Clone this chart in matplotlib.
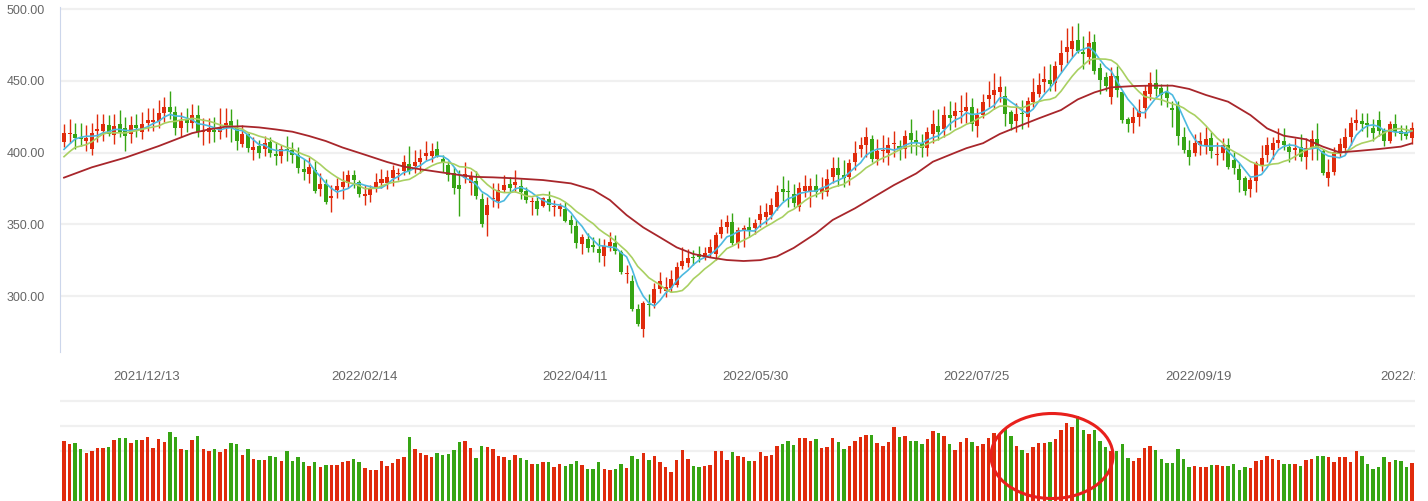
import numpy as np
import pandas as pd
import matplotlib
matplotlib.use("Agg")
import matplotlib.pyplot as plt
from matplotlib.patches import Ellipse
from matplotlib.transforms import Bbox, TransformedBbox, blended_transform_factory

# daily OHLC
opens = [
    407.5, 412.6, 412.9, 410.6, 408.2, 402.7, 415.3, 415.2, 418.9, 412.4,
    419.9, 417.1, 413.1, 419.2, 414.5, 420.8, 421.2, 422.0, 427.7, 431.7,
    428.2, 417.3, 422.8, 420.8, 426.1, 414.4, 414.5, 415.9, 414.3, 418.5,
    422.0, 416.8, 406.2, 412.9, 402.0, 404.3, 402.2, 407.3, 398.9, 397.8,
    402.2, 401.7, 398.5, 388.3, 385.2, 387.8, 374.6, 378.0, 368.6, 373.9,
    376.2, 378.5, 384.3, 379.4, 370.0, 370.6, 375.9, 378.7, 378.9, 382.2,
    384.7, 387.1, 391.7, 390.8, 393.4, 397.8, 397.8, 402.4, 395.5, 391.3,
    385.5, 377.1, 382.0, 379.0, 380.1, 367.6, 356.7, 367.7, 366.2, 373.9,
    378.0, 377.3, 376.7, 372.9, 365.2, 366.2, 363.0, 367.4, 362.2, 360.9,
    360.6, 352.9, 348.8, 336.5, 339.7, 335.5, 332.7, 328.1, 334.6, 336.7,
    330.7, 315.5, 310.4, 290.9, 276.7, 293.6, 295.3, 304.9, 303.7, 305.3,
    307.7, 321.1, 323.2, 327.2, 329.3, 327.2, 330.2, 329.3, 343.2, 348.3,
    351.6, 337.2, 346.3, 348.1, 347.6, 352.9, 355.3, 356.4, 362.2, 374.3,
    372.3, 371.1, 362.2, 373.4, 373.4, 376.6, 372.7, 372.7, 383.1, 389.2,
    384.1, 383.1, 393.6, 402.7, 405.2, 409.2, 395.5, 401.0, 399.4, 405.6,
    404.3, 402.2, 413.6, 408.7, 406.9, 402.9, 412.9, 418.2, 416.1, 425.9,
    425.7, 428.4, 429.2, 431.5, 418.7, 426.1, 437.5, 440.1, 442.4, 439.4,
    428.2, 422.2, 427.5, 424.7, 435.4, 441.0, 449.4, 450.5, 448.2, 461.0,
    470.3, 472.1, 478.4, 470.3, 466.8, 477.0, 458.9, 452.6, 438.9, 453.1,
    442.2, 423.3, 420.3, 424.5, 430.8, 440.5, 448.2, 444.9, 441.9, 430.8,
    433.3, 410.8, 401.7, 399.9, 405.2, 404.8, 410.1, 398.2, 399.9, 405.2,
    394.5, 388.5, 382.0, 374.6, 380.4, 391.3, 398.2, 401.7, 406.9, 407.8,
    403.8, 401.5, 403.8, 397.1, 403.8, 409.4, 401.0, 382.5, 386.6, 400.1,
    402.9, 411.0, 420.3, 421.9, 420.3, 417.1, 422.6, 415.7, 408.2, 419.9,
    415.2, 414.5, 410.3,
]
highs = [
    419.9, 423.1, 420.8, 420.3, 418.9, 420.6, 426.8, 426.8, 426.1, 426.6,
    429.4, 424.7, 425.4, 427.0, 428.2, 430.8, 430.8, 436.6, 438.9, 442.9,
    432.2, 428.0, 431.0, 433.8, 433.1, 424.0, 424.0, 424.7, 430.8, 430.8,
    430.3, 423.3, 418.9, 413.4, 410.6, 408.7, 411.5, 410.6, 407.5, 405.5,
    411.5, 407.1, 403.6, 395.2, 397.1, 394.1, 385.5, 381.3, 377.1, 382.0,
    387.1, 387.8, 387.8, 380.8, 377.1, 377.1, 385.9, 388.3, 387.8, 391.3,
    389.2, 398.2, 404.5, 401.7, 402.2, 407.8, 406.8, 408.0, 398.2, 393.8,
    389.7, 387.8, 393.4, 387.3, 387.3, 371.5, 369.2, 379.0, 378.5, 384.3,
    383.1, 387.8, 381.8, 375.7, 369.2, 369.2, 369.2, 373.2, 366.9, 365.0,
    365.7, 356.4, 352.9, 343.0, 343.7, 340.9, 340.2, 339.5, 344.6, 342.3,
    332.0, 321.6, 314.6, 294.4, 296.7, 301.2, 308.8, 316.7, 313.5, 318.1,
    323.7, 334.4, 333.0, 332.0, 334.8, 334.4, 339.9, 344.8, 353.6, 356.4,
    357.8, 348.3, 349.5, 355.1, 353.4, 363.4, 364.6, 368.1, 377.3, 383.6,
    380.8, 378.0, 379.7, 384.3, 382.0, 385.0, 382.7, 388.7, 396.9, 396.9,
    394.8, 395.7, 408.0, 411.0, 417.8, 412.0, 409.4, 412.2, 410.8, 415.2,
    408.7, 415.9, 423.1, 415.7, 412.9, 418.0, 429.6, 430.3, 432.2, 436.1,
    435.0, 440.1, 441.9, 437.7, 431.2, 440.5, 449.8, 455.2, 453.3, 446.6,
    429.6, 434.3, 436.6, 438.4, 452.1, 455.2, 460.3, 461.7, 463.8, 478.6,
    486.8, 488.2, 490.2, 481.2, 484.9, 482.6, 462.6, 456.3, 459.3, 460.3,
    442.2, 424.9, 431.7, 437.3, 447.0, 456.1, 458.2, 447.7, 447.7, 435.9,
    435.9, 417.5, 408.7, 412.7, 414.1, 417.8, 414.1, 407.5, 409.9, 409.9,
    400.1, 392.5, 383.9, 383.2, 394.3, 405.2, 410.6, 410.8, 416.8, 416.8,
    406.9, 409.9, 412.7, 409.9, 415.7, 420.6, 402.7, 395.5, 403.8, 410.3,
    416.8, 424.7, 430.3, 427.5, 427.5, 423.3, 429.1, 416.8, 421.9, 426.8,
    419.2, 419.2, 421.0,
]
lows = [
    403.6, 406.4, 402.7, 404.5, 401.3, 398.5, 407.3, 408.2, 411.3, 405.9,
    410.6, 401.3, 406.9, 411.0, 409.6, 415.0, 415.2, 416.8, 421.5, 423.1,
    412.0, 410.6, 414.5, 416.8, 411.0, 405.2, 406.4, 407.3, 409.6, 411.0,
    407.3, 401.7, 403.6, 400.6, 394.8, 395.9, 397.8, 396.6, 391.5, 392.9,
    394.3, 392.4, 385.5, 380.8, 378.7, 371.5, 369.7, 364.1, 358.5, 368.3,
    367.6, 375.5, 375.5, 369.0, 363.6, 365.7, 372.7, 375.2, 374.3, 376.4,
    380.8, 384.3, 385.0, 385.5, 385.5, 394.5, 393.1, 396.6, 386.2, 379.9,
    371.3, 356.0, 378.5, 370.4, 367.6, 348.3, 341.8, 361.8, 361.5, 372.5,
    372.5, 372.5, 367.8, 364.6, 356.7, 356.4, 361.8, 359.0, 356.0, 356.0,
    351.8, 343.9, 333.5, 329.3, 330.9, 330.7, 323.9, 320.9, 331.4, 329.3,
    315.3, 308.8, 289.5, 279.1, 271.6, 286.3, 291.6, 301.8, 299.5, 302.5,
    306.5, 318.6, 320.4, 321.6, 323.9, 324.9, 327.4, 325.1, 340.2, 344.1,
    335.5, 333.2, 334.4, 341.3, 343.0, 348.3, 350.2, 353.4, 360.0, 366.2,
    362.2, 362.2, 359.5, 369.2, 362.2, 368.7, 367.4, 369.7, 379.0, 376.9,
    375.7, 377.6, 387.8, 397.1, 397.1, 393.4, 391.3, 393.1, 391.5, 397.1,
    394.8, 395.9, 399.9, 398.3, 397.1, 397.6, 406.4, 408.7, 410.8, 415.7,
    418.0, 420.3, 420.8, 415.0, 411.0, 423.8, 431.9, 430.3, 435.0, 418.7,
    415.4, 414.5, 416.4, 418.0, 431.9, 438.4, 442.4, 442.9, 442.9, 456.1,
    462.4, 466.3, 469.6, 458.4, 461.4, 454.7, 440.5, 442.9, 433.6, 438.9,
    420.3, 414.5, 413.3, 418.7, 424.3, 436.6, 439.4, 433.1, 431.5, 417.8,
    405.2, 399.4, 391.3, 397.8, 398.3, 398.7, 396.4, 391.3, 394.8, 388.5,
    384.8, 372.7, 370.4, 369.2, 372.2, 387.1, 393.1, 395.5, 402.9, 401.7,
    393.6, 394.8, 394.1, 388.5, 394.8, 394.5, 384.3, 376.9, 384.3, 397.1,
    399.2, 405.2, 415.7, 415.0, 410.8, 408.0, 411.7, 404.5, 406.4, 411.3,
    408.7, 409.2, 405.7,
]
closes = [
    413.6, 413.1, 410.3, 409.6, 410.1, 413.6, 415.4, 419.9, 412.9, 418.2,
    414.3, 411.7, 419.2, 416.8, 419.6, 422.6, 422.6, 427.3, 431.7, 428.5,
    417.3, 421.7, 420.8, 426.1, 414.5, 414.5, 416.8, 414.5, 418.0, 420.8,
    416.8, 408.0, 412.9, 403.1, 403.6, 399.9, 406.4, 399.9, 397.8, 402.7,
    401.3, 398.5, 389.4, 386.4, 389.7, 373.4, 377.8, 365.7, 368.7, 376.6,
    379.4, 384.1, 380.8, 371.3, 370.2, 374.6, 379.4, 381.5, 383.0, 387.6,
    384.8, 393.4, 387.1, 393.4, 396.2, 399.6, 400.8, 397.8, 392.4, 384.3,
    375.0, 374.6, 385.0, 383.9, 369.9, 350.4, 363.4, 367.8, 373.6, 377.1,
    375.5, 379.4, 372.7, 367.1, 365.3, 360.6, 368.1, 363.4, 362.3, 362.7,
    352.5, 349.7, 337.2, 340.9, 333.4, 334.4, 330.2, 335.1, 337.4, 331.6,
    316.9, 315.6, 291.2, 280.7, 295.1, 293.5, 304.9, 310.4, 306.5, 311.6,
    320.2, 324.4, 326.5, 326.7, 326.9, 330.0, 334.1, 342.5, 347.8, 351.6,
    337.2, 346.0, 346.5, 346.0, 350.9, 357.1, 358.5, 363.4, 372.5, 372.7,
    372.2, 365.0, 375.0, 376.6, 376.6, 372.5, 375.5, 381.5, 389.2, 384.3,
    382.5, 392.7, 399.4, 405.2, 410.6, 395.7, 400.8, 401.1, 405.0, 405.7,
    402.2, 411.3, 408.7, 406.4, 402.9, 414.3, 419.9, 414.5, 425.9, 424.3,
    428.7, 428.5, 431.5, 419.6, 426.1, 434.9, 440.1, 443.6, 445.6, 427.1,
    420.1, 426.8, 426.6, 435.9, 441.9, 447.0, 451.2, 448.0, 460.3, 469.3,
    473.5, 477.7, 471.0, 468.4, 476.3, 457.0, 450.5, 446.6, 453.3, 443.6,
    422.6, 419.6, 424.7, 429.1, 442.6, 448.4, 444.5, 440.1, 437.7, 429.8,
    411.7, 402.0, 397.1, 406.4, 408.0, 409.4, 401.3, 398.3, 405.2, 390.1,
    389.4, 380.8, 373.4, 380.8, 392.5, 395.9, 405.2, 406.5, 408.7, 405.2,
    400.6, 403.4, 397.1, 403.4, 409.4, 402.9, 385.9, 386.2, 400.6, 405.9,
    410.8, 420.6, 422.6, 420.1, 419.2, 413.8, 415.0, 408.2, 419.6, 414.5,
    413.1, 411.7, 416.8,
]
volumes = [
    2.40, 2.27, 2.31, 2.07, 1.91, 1.99, 2.11, 2.11, 2.15, 2.43,
    2.51, 2.51, 2.31, 2.43, 2.43, 2.55, 2.11, 2.47, 2.35, 2.75,
    2.55, 2.07, 2.03, 2.43, 2.59, 2.07, 1.99, 2.07, 1.95, 2.07,
    2.31, 2.27, 1.83, 2.07, 1.67, 1.63, 1.63, 1.79, 1.75, 1.59,
    1.99, 1.59, 1.75, 1.55, 1.39, 1.55, 1.35, 1.43, 1.43, 1.43,
    1.55, 1.59, 1.67, 1.55, 1.31, 1.23, 1.23, 1.59, 1.39, 1.51,
    1.67, 1.75, 2.55, 2.07, 1.91, 1.83, 1.75, 1.91, 1.83, 1.87,
    2.03, 2.35, 2.39, 2.11, 1.71, 2.19, 2.15, 2.07, 1.79, 1.75,
    1.63, 1.83, 1.71, 1.63, 1.47, 1.47, 1.55, 1.55, 1.35, 1.47,
    1.39, 1.47, 1.59, 1.43, 1.27, 1.27, 1.55, 1.27, 1.23, 1.27,
    1.47, 1.31, 1.79, 1.67, 1.91, 1.63, 1.79, 1.55, 1.35, 1.15,
    1.63, 2.03, 1.67, 1.39, 1.35, 1.39, 1.43, 1.99, 1.99, 1.63,
    1.95, 1.79, 1.75, 1.59, 1.59, 1.95, 1.79, 1.83, 2.19, 2.27,
    2.39, 2.23, 2.51, 2.51, 2.39, 2.47, 2.11, 2.15, 2.51, 2.35,
    2.07, 2.19, 2.39, 2.55, 2.63, 2.63, 2.31, 2.19, 2.35, 2.95,
    2.55, 2.59, 2.39, 2.39, 2.27, 2.47, 2.79, 2.71, 2.59, 2.27,
    2.03, 2.35, 2.51, 2.35, 2.19, 2.27, 2.51, 2.71, 2.63, 2.87,
    2.59, 2.19, 2.03, 1.91, 2.15, 2.31, 2.31, 2.35, 2.47, 2.83,
    3.11, 2.95, 3.39, 2.83, 2.67, 2.83, 2.39, 2.15, 1.99, 1.99,
    2.27, 1.71, 1.59, 1.71, 2.11, 2.19, 2.03, 1.67, 1.51, 1.51,
    2.07, 1.67, 1.35, 1.39, 1.35, 1.35, 1.43, 1.43, 1.39, 1.39,
    1.47, 1.23, 1.35, 1.31, 1.59, 1.63, 1.79, 1.67, 1.63, 1.47,
    1.47, 1.47, 1.39, 1.63, 1.67, 1.79, 1.79, 1.75, 1.55, 1.75,
    1.75, 1.55, 1.99, 1.79, 1.47, 1.27, 1.35, 1.75, 1.55, 1.63,
    1.59, 1.35, 1.51,
]
# first moving-average points (need data before the visible window)
ma5_head = [402.2, 405.9, 409.4, 410.6]
ma10_head = [397.1, 400.6, 403.6, 404.5, 405.5, 407.5, 410.3, 412.9, 413.8]
# long moving average, read at sample bars
ma30_idx = [0, 5, 11, 17, 20, 23, 26, 29, 32, 35, 38, 41, 44, 47, 50, 54, 58, 61,
            64, 67, 71, 74, 77, 81, 86, 91, 95, 98, 101, 104, 107, 110, 113, 116,
            119, 122, 125, 128, 131, 135, 138, 142, 146, 149, 153, 156, 160, 162,
            165, 168, 172, 175, 179, 182, 185, 188, 192, 195, 199, 202, 205, 209,
            213, 216, 219, 223, 226, 229, 232, 236, 240, 242]
ma30_val = [382.5, 389.7, 396.4, 404.5, 409.0, 413.5, 416.1, 418.0, 418.3, 417.5,
            416.1, 414.5, 411.5, 408.0, 403.5, 398.5, 393.4, 390.2, 388.3, 386.6,
            384.3, 383.0, 382.7, 382.0, 380.8, 378.5, 373.9, 366.9, 356.4, 347.8,
            340.9, 333.9, 329.3, 326.9, 325.1, 324.4, 325.0, 327.6, 333.5, 343.7,
            353.0, 361.1, 370.4, 377.3, 385.4, 393.6, 399.9, 403.0, 406.5, 412.9,
            419.2, 423.8, 429.6, 437.0, 441.9, 445.4, 446.3, 446.6, 446.6, 444.3,
            440.1, 435.4, 426.1, 416.8, 411.7, 409.2, 404.1, 400.1, 401.0, 402.4,
            404.1, 406.4]
price_ticks = [300, 350, 400, 450, 500]
vol_grid = [2, 3, 4]
date_labels = ["2021/12/13", "2022/02/14", "2022/04/11", "2022/05/30",
               "2022/07/25", "2022/09/19", "2022/11/14"]
date_pos = [14.9, 54.0, 91.7, 124.1, 163.8, 203.6, 242.2]

RED = "#e02b0c"
GREEN = "#36a514"
GRAY = "#666666"

o = np.array(opens)
h = np.array(highs)
l = np.array(lows)
c = np.array(closes)
x = np.arange(len(c))
cols = np.where(c >= o, RED, GREEN)

ma5 = pd.Series(c).rolling(5).mean().values
ma5[:4] = ma5_head
ma10 = pd.Series(c).rolling(10).mean().values
ma10[:9] = ma10_head

W, H = 1428, 501
fig = plt.figure(figsize=(W / 100, H / 100), dpi=100)
ax = fig.add_axes([60 / W, (H - 352) / H, 1355 / W, 345 / H])
axv = fig.add_axes([60 / W, 0, 1355 / W, 107 / H])

# candles
ax.vlines(x, l, h, colors=cols, lw=1, zorder=2)
ax.bar(x, np.maximum(np.abs(c - o), 0.8), bottom=np.minimum(o, c), width=0.72,
       color=cols, lw=0, zorder=2)
ax.plot(x, ma5, color="#4cb9e0", lw=1.2, zorder=3)
ax.plot(x, ma10, color="#a9d062", lw=1.2, zorder=3)
ax.plot(ma30_idx, ma30_val, color="#a8262b", lw=1.3, zorder=3)

ax.set_xlim(-0.72, 242.55)
ax.set_ylim(261.0, 501.4)
ax.set_yticks(price_ticks)
ax.set_yticklabels(["%.2f" % v for v in price_ticks])
ax.set_xticks([])
ax.yaxis.grid(True, color="#f0f0f0", lw=1.6)
ax.set_axisbelow(True)
for s in ["top", "right", "bottom"]:
    ax.spines[s].set_visible(False)
ax.spines["left"].set_color("#ccd6eb")
ax.tick_params(axis="y", length=0, pad=11, labelsize=9, labelcolor=GRAY)
for t in ax.get_yticklabels():
    t.set_fontfamily("Liberation Sans")

# volume
axv.bar(x, volumes, width=0.62, color=cols, lw=0, zorder=2)
axv.set_xlim(-0.72, 242.55)
axv.set_ylim(0, 4.28)
axv.set_yticks(vol_grid)
axv.set_yticklabels([])
axv.set_xticks([])
axv.yaxis.grid(True, color="#f0f0f0", lw=1.6)
axv.set_axisbelow(True)
axv.tick_params(length=0)
for s in axv.spines.values():
    s.set_visible(False)

# date labels between the panels, the last one runs past the chart edge
clip = TransformedBbox(Bbox([[0, 0], [1415 / W, 1]]), fig.transFigure)
tr = blended_transform_factory(ax.transData, fig.transFigure)
for p, lab in zip(date_pos, date_labels):
    t = fig.text(p, 1 - 377 / H, lab, transform=tr, ha="center", va="center",
                 fontsize=9.5, color=GRAY, family="Liberation Sans")
    t.set_clip_box(clip)
    t.set_clip_on(True)

# highlight ring on the volume panel
fig.add_artist(Ellipse((1052 / W, 1 - 456 / H), 122 / W, 85 / H,
                       transform=fig.transFigure, fill=False,
                       ec="#e8201c", lw=2.2, zorder=10))

fig.savefig("out.png", dpi=100)
